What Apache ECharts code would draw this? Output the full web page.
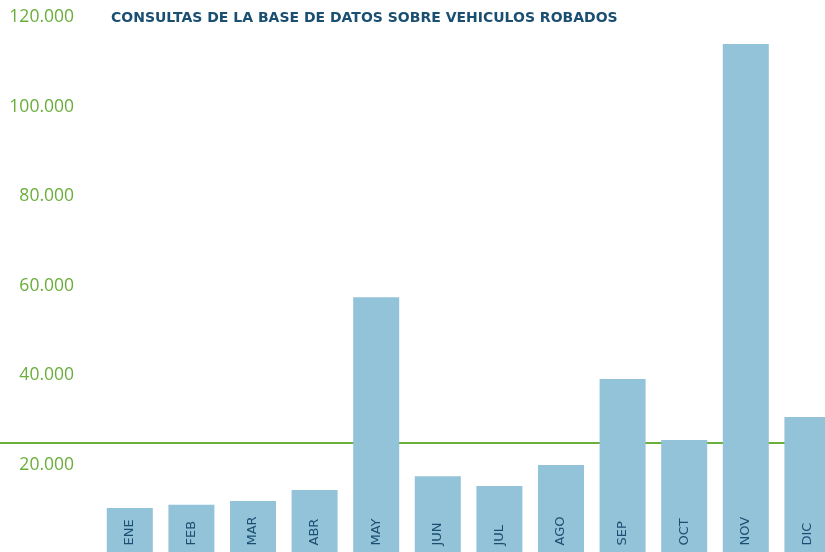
<!DOCTYPE html>
<html><head><meta charset="utf-8">
<script src="https://cdn.jsdelivr.net/npm/echarts@6/dist/echarts.min.js"></script>
<style>html,body{margin:0;padding:0;background:#fff}#c{width:825px;height:552px}</style>
</head><body><div id="c"></div>
<script>
const titleText = 'CONSULTAS DE LA BASE DE DATOS SOBRE VEHICULOS ROBADOS';
const categories = ['ENE','FEB','MAR','ABR','MAY','JUN','JUL','AGO','SEP','OCT','NOV','DIC'];
const values = [10400, 11100, 11950, 14400, 57500, 17500, 15300, 20000, 39200, 25600, 114100, 30700];
const referenceValue = 24900;
const yTicks = [0, 20000, 40000, 60000, 80000, 100000, 120000];

const chart = echarts.init(document.getElementById('c'));
function fmt(v){ if (v === 0) return ''; return String(v).replace(/\B(?=(\d{3})+(?!\d))/g, '.'); }
chart.setOption({
  animation: false,
  title: { text: titleText, left: 106, top: 6,
    textStyle: { fontFamily: 'DejaVu Sans', fontWeight: 'bold', fontSize: 14, color: '#1b4f72' } },
  grid: { left: 99, top: 17.5, width: 739.2, height: 537, outerBoundsMode: 'none', containLabel: false },
  xAxis: { type: 'category', data: categories, axisLine: {show:false}, axisTick: {show:false}, axisLabel: {show:false} },
  yAxis: { type: 'value', min: yTicks[0], max: yTicks[yTicks.length-1], interval: 20000,
    axisLine: {show:false}, axisTick: {show:false}, splitLine: {show:false},
    axisLabel: { formatter: fmt, margin: 25, fontFamily: 'Open Sans', fontSize: 17.5, color: '#6aae3b' } },
  series: [{
    type: 'bar', data: values, barWidth: 46, z: 2,
    itemStyle: { color: '#93c3d8' },
    label: { show: true, position: 'insideBottom', rotate: 90, align: 'left', verticalAlign: 'middle',
      distance: 9, formatter: '{b}', fontFamily: 'DejaVu Sans', fontSize: 13, color: '#1b4f72' }
  }]
});
const yLine = chart.convertToPixel({ yAxisIndex: 0 }, referenceValue);
chart.setOption({ graphic: [{ type: 'line', z: 0, shape: { x1: 0, y1: yLine, x2: 825, y2: yLine },
  style: { stroke: '#6aae3b', lineWidth: 2 } }] });
</script></body></html>
